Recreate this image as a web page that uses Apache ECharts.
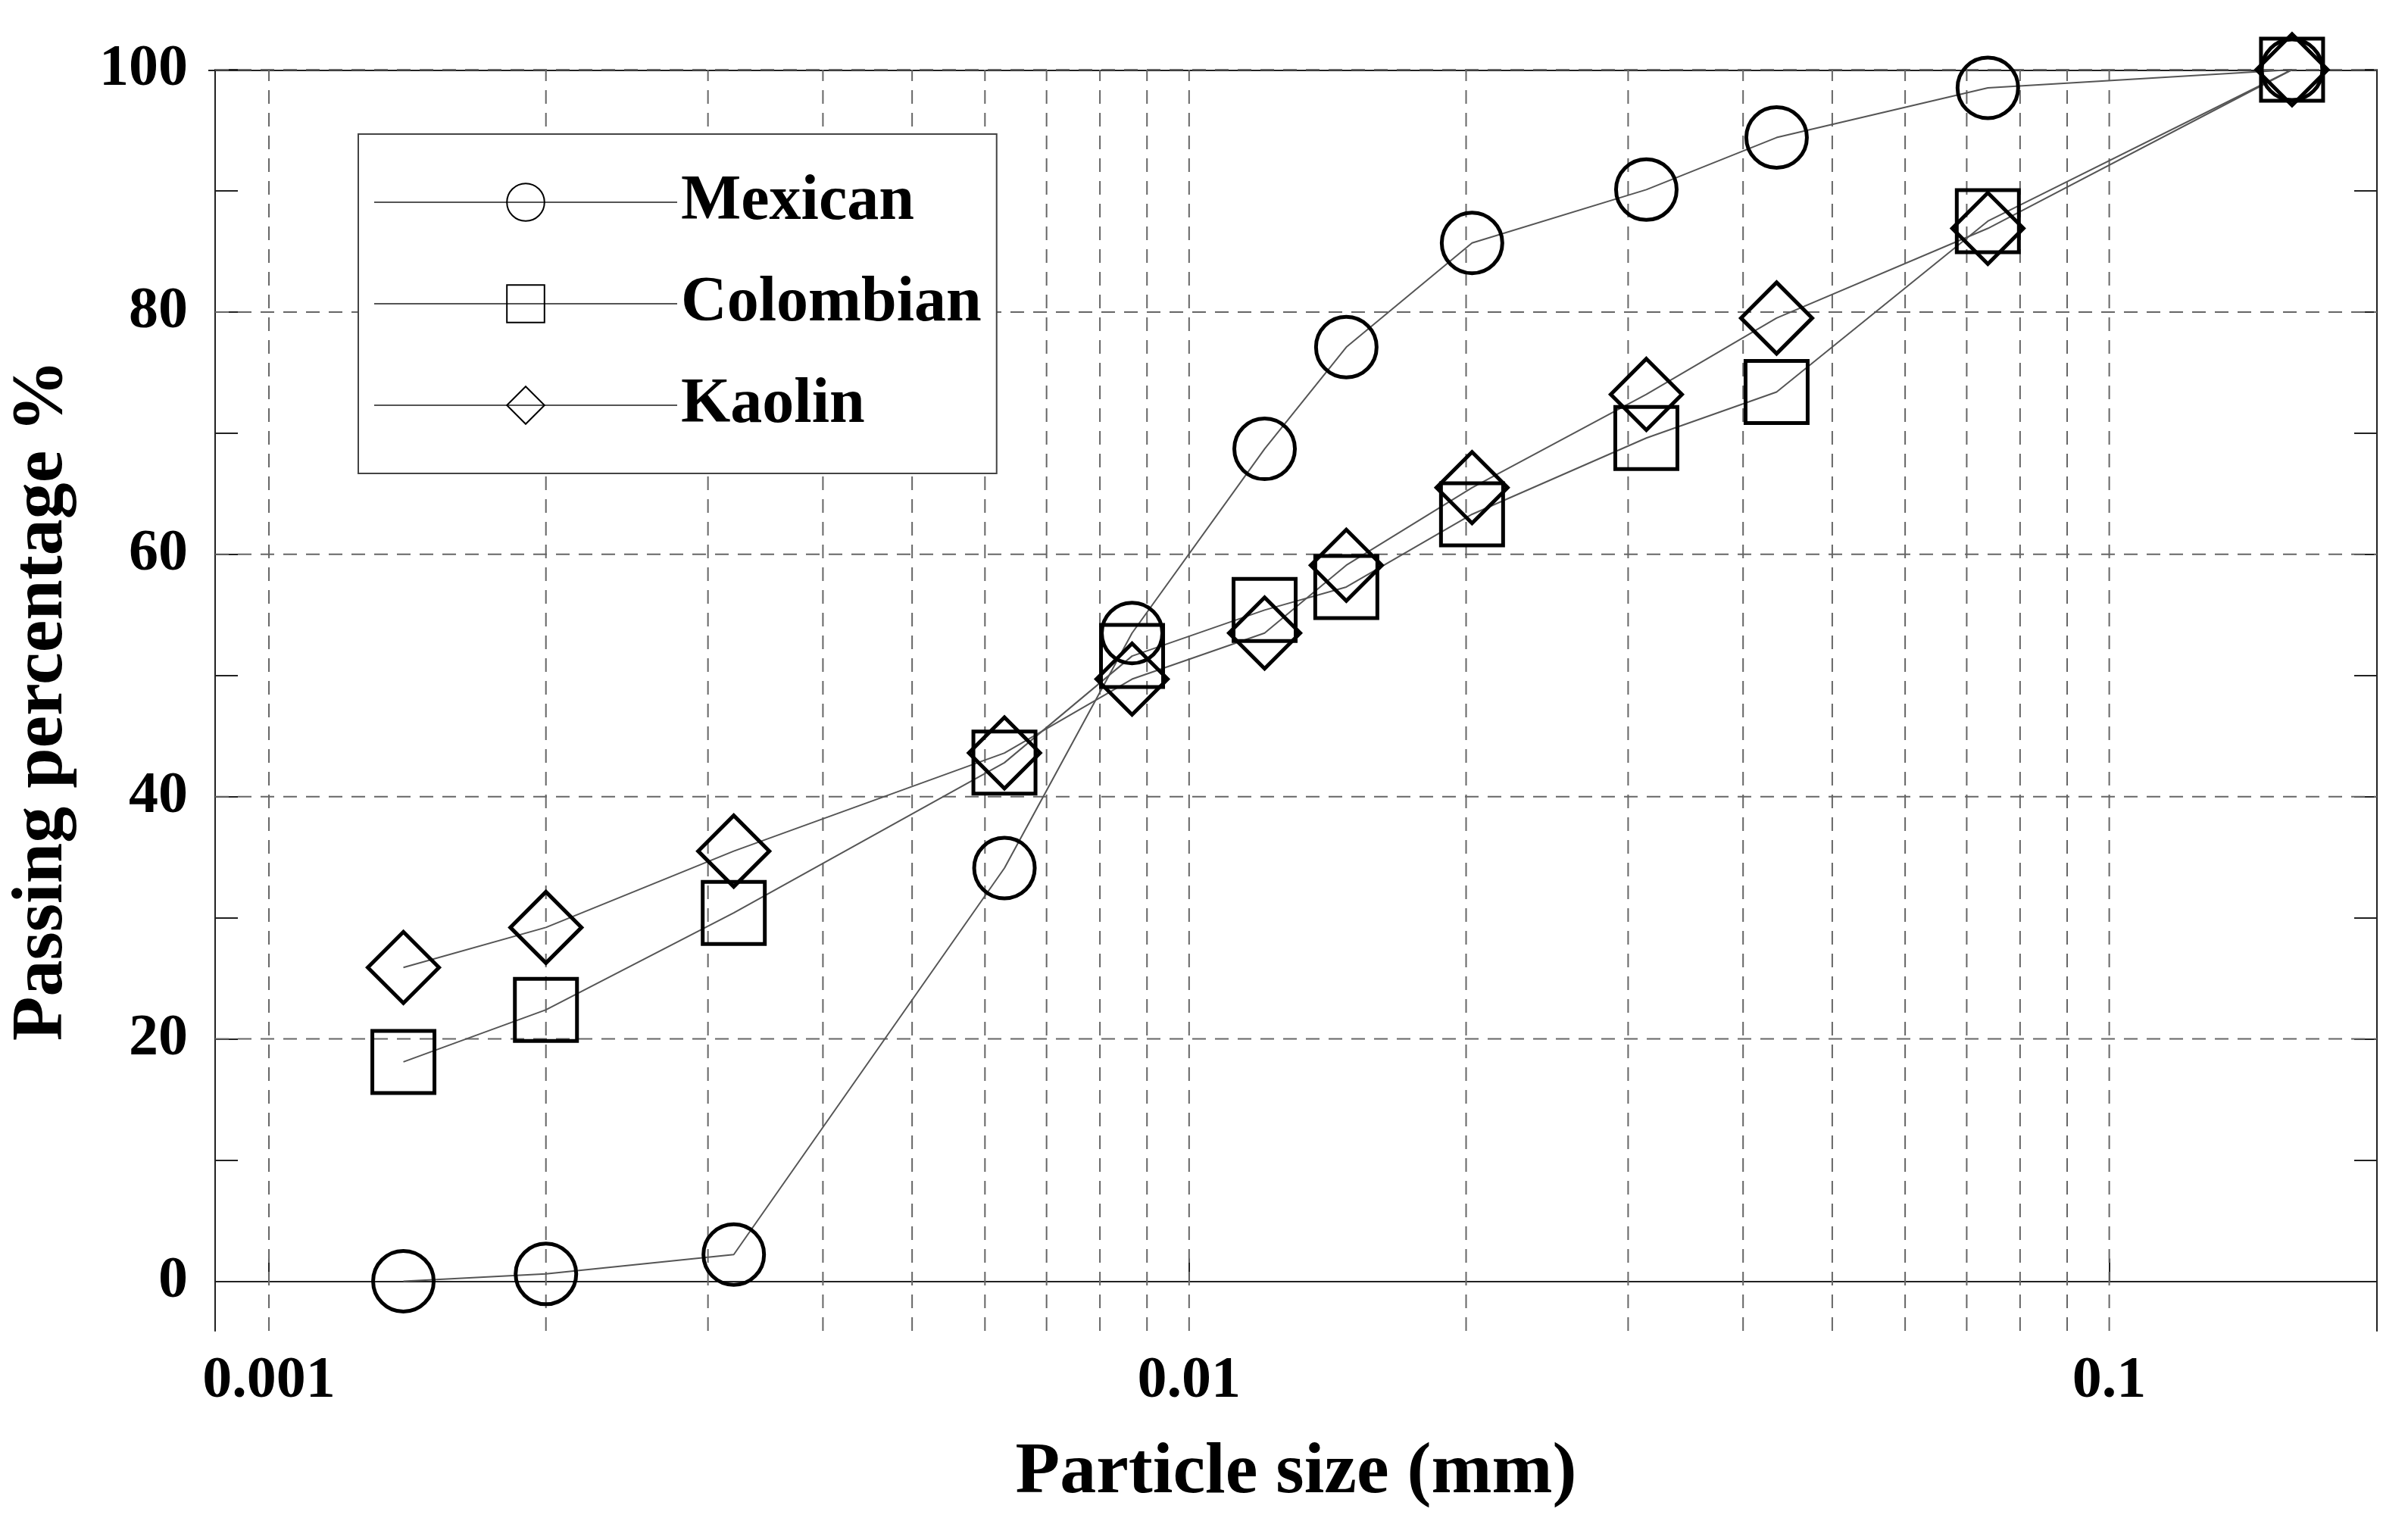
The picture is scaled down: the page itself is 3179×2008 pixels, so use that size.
<!DOCTYPE html>
<html lang="en">
<head>
<meta charset="UTF-8">
<title>Particle size distribution</title>
<script src="https://cdn.jsdelivr.net/npm/echarts@6/dist/echarts.min.js"></script>
<style>
    html, body {margin: 0; padding: 0; background: #fff;}
    #chart {width: 3179px; height: 2008px;}
</style>
</head>
<body>
<div id="chart"></div>
<script>
    // particle sizes (mm), same sieve/hydrometer points for all three soils
    const sizes = [0.0014, 0.002, 0.0032, 0.0063, 0.00867, 0.01208, 0.01482, 0.0203, 0.0314, 0.0435, 0.0738, 0.158];
    const mexican = [0, 0.6, 2.2, 34.1, 53.5, 68.7, 77.1, 85.7, 90.1, 94.4, 98.5, 100];
    const colombian = [18.1, 22.4, 30.4, 42.8, 51.6, 55.4, 57.3, 63.3, 69.6, 73.4, 87.5, 100];
    const kaolin = [25.9, 29.2, 35.5, 43.6, 49.7, 53.5, 59.1, 65.5, 73.2, 79.5, 86.9, 100];
    const xLabels = [0.001, 0.01, 0.1];
    const yLabels = [0, 20, 40, 60, 80, 100];
    const yTicks = [0, 10, 20, 30, 40, 50, 60, 70, 80, 90, 100];
    const decades = [0.001, 0.01, 0.1];
    const hGrid = [20, 40, 60, 80, 100];

    const font = '"Liberation Serif", "DejaVu Serif", serif';
    const gridLine = {color: '#666', type: [18, 12], width: 2};
    const xMin = 0.000874, xMax = 0.1954, yMin = -4.1, yMax = 100;

    // dashed grid as plain line series: 1..9 of each decade, horizontal every 20 %
    let gridSeries = [];
    decades.forEach(d => {
        for (let k = 1; k <= 9; k++) {
            let x = +(d * k).toPrecision(3);
            if (x < xMax) gridSeries.push([[x, yMin], [x, yMax]]);
        }
    });
    hGrid.forEach(v => gridSeries.push([[xMin, v], [xMax, v]]));
    gridSeries = gridSeries.map(pts => ({
        type: 'line', data: pts, symbol: 'none', silent: true,
        lineStyle: gridLine, z: 1, tooltip: {show: false}
    }));

    function makeSeries(name, values, symbol, size) {
        return {
            name: name,
            type: 'line',
            data: sizes.map((s, i) => [s, values[i]]),
            symbol: symbol,
            symbolSize: size,
            showAllSymbol: true,
            lineStyle: {color: '#555', width: 2},
            itemStyle: {color: 'rgba(255,255,255,0)', borderColor: '#000', borderWidth: 5},
            z: 5
        };
    }

    const chart = echarts.init(document.getElementById('chart'));
    chart.setOption({
        backgroundColor: '#fff',
        animation: false,
        grid: {left: 275, right: 41, top: 92, bottom: 251},
        legend: {
            left: 473, top: 177, orient: 'vertical',
            width: 846, height: 428,
            itemWidth: 400, itemHeight: 62, itemGap: 50,
            padding: [48, 20, 48, 20],
            backgroundColor: '#fff', borderColor: '#444', borderWidth: 2,
            textStyle: {fontFamily: font, fontWeight: 'bold', fontSize: 84, color: '#000'},
            data: ['Mexican', 'Colombian', 'Kaolin']
        },
        xAxis: {
            type: 'log', logBase: 10, min: xMin, max: xMax,
            name: 'Particle size (mm)', nameLocation: 'middle', nameGap: 140,
            nameTextStyle: {fontFamily: font, fontWeight: 'bold', fontSize: 96, color: '#000'},
            axisLine: {lineStyle: {color: '#222', width: 2}},
            axisTick: {inside: true, length: 30, customValues: xLabels, lineStyle: {color: '#222', width: 2}},
            axisLabel: {customValues: xLabels, fontFamily: font, fontWeight: 'bold', fontSize: 78, color: '#000', margin: 28,
                formatter: v => String(v)},
            splitLine: {show: false}
        },
        yAxis: [{
            type: 'value', min: yMin, max: yMax,
            name: 'Passing percentage %', nameLocation: 'middle', nameGap: 180, nameRotate: 90,
            nameTextStyle: {fontFamily: font, fontWeight: 'bold', fontSize: 96, color: '#000'},
            axisLine: {show: true, lineStyle: {color: '#222', width: 2}},
            axisTick: {show: true, inside: true, length: 30, customValues: yTicks, lineStyle: {color: '#222', width: 2}},
            axisLabel: {customValues: yLabels, fontFamily: font, fontWeight: 'bold', fontSize: 78, color: '#000', margin: 36},
            splitLine: {show: false}
        }, {
            type: 'value', min: yMin, max: yMax, position: 'right',
            axisLine: {show: true, lineStyle: {color: '#222', width: 2}},
            axisTick: {show: true, inside: true, length: 30, customValues: yTicks, lineStyle: {color: '#222', width: 2}},
            axisLabel: {show: false},
            splitLine: {show: false}
        }],
        graphic: [{
            type: 'rect', left: 275, top: 92, shape: {width: 2863, height: 2},
            style: {fill: '#222'}, silent: true
        }],
        series: gridSeries.concat([
            makeSeries('Mexican', mexican, 'circle', 80),
            makeSeries('Colombian', colombian, 'rect', 82),
            makeSeries('Kaolin', kaolin, 'diamond', 94)
        ])
    });
</script>
</body>
</html>
